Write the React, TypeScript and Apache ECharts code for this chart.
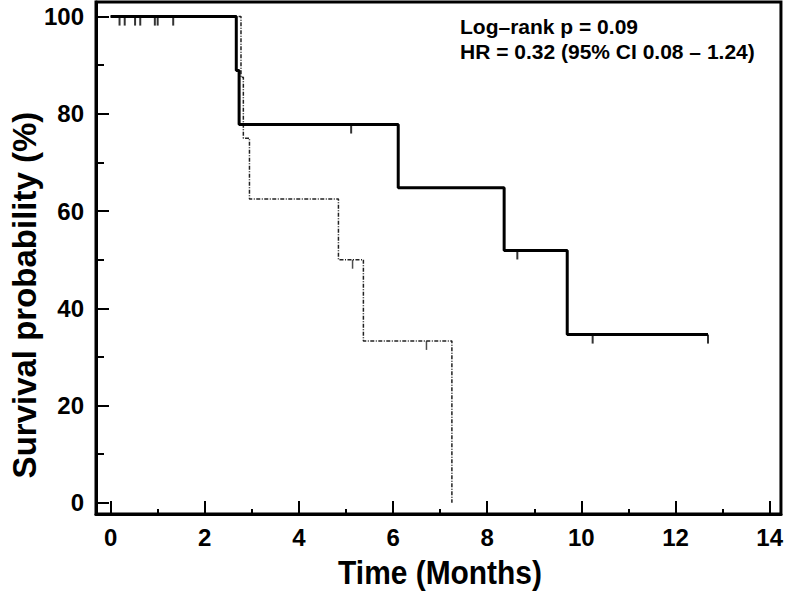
import React, { useEffect, useRef } from "react";
import * as echarts from "echarts";

// ---- data ----
const solidCurve: [number, number][] = [
  [0, 100], [2.67, 88.9], [2.73, 77.8], [6.11, 64.8], [8.36, 51.9], [9.7, 34.6], [12.69, 34.6],
];
const dashedCurve: [number, number][] = [
  [0, 100], [2.77, 87.5], [2.82, 75], [2.95, 62.5], [4.84, 50], [5.37, 33.3], [7.25, 0],
];
const solidCensors: [number, number][] = [
  [0.19, 100], [0.3, 100], [0.52, 100], [0.63, 100], [0.94, 100], [1.0, 100], [1.33, 100],
  [5.11, 77.8], [8.64, 51.9], [10.24, 34.6], [12.69, 34.6],
];
const dashedCensors: [number, number][] = [
  [5.14, 50], [6.71, 33.3],
];
const xMajorTicks = [0, 2, 4, 6, 8, 10, 12, 14];
const xMinorTicks = [1, 3, 5, 7, 9, 11, 13];
const yMajorTicks = [0, 20, 40, 60, 80, 100];
const yMinorTicks = [10, 30, 50, 70, 90];
const annotationLines = ["Log\u2013rank p = 0.09", "HR = 0.32 (95% CI 0.08 \u2013 1.24)"];
const xTitle = "Time (Months)";
const yTitle = "Survival probability (%)";

const X_MIN = -0.31;
const X_MAX = 14.24;
const Y_MIN = -2.3;
const Y_MAX = 103;

const sans = "'Liberation Sans', Arial, Helvetica, sans-serif";

export default function App() {
  const ref = useRef<HTMLDivElement>(null);
  useEffect(() => {
    document.body.style.margin = "0";
    const chart = echarts.init(ref.current!, undefined, { renderer: "svg" });
    const tickStyle = { color: "#000", width: 2 };
    const labelStyle = { color: "#000", fontFamily: sans, fontWeight: "bold", fontSize: 24 };
    chart.setOption({
      animation: false,
      backgroundColor: "#fff",
      grid: {
        left: 96, right: 4.5, top: 2, bottom: 77,
        show: true, borderColor: "#000", borderWidth: 3,
      },
      xAxis: [
        {
          type: "value", min: X_MIN, max: X_MAX,
          axisLine: { show: true, onZero: false, lineStyle: { color: "#000", width: 3 } },
          axisTick: { show: true, inside: true, length: 13, customValues: xMajorTicks, lineStyle: tickStyle },
          axisLabel: { customValues: xMajorTicks, margin: 11, ...labelStyle },
          splitLine: { show: false },
        },
        {
          type: "value", min: X_MIN, max: X_MAX, position: "bottom",
          axisLine: { show: false, onZero: false },
          axisTick: { show: true, inside: true, length: 5, customValues: xMinorTicks, lineStyle: tickStyle },
          axisLabel: { show: false },
          splitLine: { show: false },
        },
      ],
      yAxis: [
        {
          type: "value", min: Y_MIN, max: Y_MAX,
          axisLine: { show: true, onZero: false, lineStyle: { color: "#000", width: 3 } },
          axisTick: { show: true, inside: true, length: 13, customValues: yMajorTicks, lineStyle: tickStyle },
          axisLabel: { customValues: yMajorTicks, margin: 12, ...labelStyle },
          splitLine: { show: false },
        },
        {
          type: "value", min: Y_MIN, max: Y_MAX, position: "left",
          axisLine: { show: false, onZero: false },
          axisTick: { show: true, inside: true, length: 8, customValues: yMinorTicks, lineStyle: tickStyle },
          axisLabel: { show: false },
          splitLine: { show: false },
        },
      ],
      graphic: [
        {
          type: "text", x: 24, y: 295, rotation: Math.PI / 2,
          style: {
            text: yTitle, align: "center", verticalAlign: "middle",
            fontFamily: sans, fontWeight: "bold", fontSize: 33, fill: "#000",
          },
        },
        {
          type: "text", x: 440, y: 572, scaleX: 0.88,
          style: {
            text: xTitle, align: "center", verticalAlign: "middle",
            fontFamily: sans, fontWeight: "bold", fontSize: 34, fill: "#000",
          },
        },
        {
          type: "text", x: 460, y: 14,
          style: {
            text: annotationLines.join("\n"), align: "left", verticalAlign: "top",
            fontFamily: sans, fontWeight: "bold", fontSize: 21, lineHeight: 25, fill: "#000",
          },
        },
      ],
      series: [
        {
          type: "line", data: dashedCurve, step: "end", symbol: "none",
          lineStyle: { color: "#222", width: 1.5, type: [4, 1.5, 1, 1.5] },
          z: 2,
        },
        {
          type: "line", data: solidCurve, step: "end", symbol: "none",
          lineStyle: { color: "#000", width: 3 },
          z: 3,
        },
        {
          type: "scatter", data: solidCensors, symbol: "rect", symbolSize: [2, 9],
          symbolOffset: [0, 4.5], itemStyle: { color: "#000" }, z: 4,
        },
        {
          type: "scatter", data: dashedCensors, symbol: "rect", symbolSize: [1.5, 9],
          symbolOffset: [0, 4.5], itemStyle: { color: "#222" }, z: 4,
        },
      ],
    });
    return () => chart.dispose();
  }, []);
  return <div ref={ref} style={{ width: 786, height: 591 }} />;
}
